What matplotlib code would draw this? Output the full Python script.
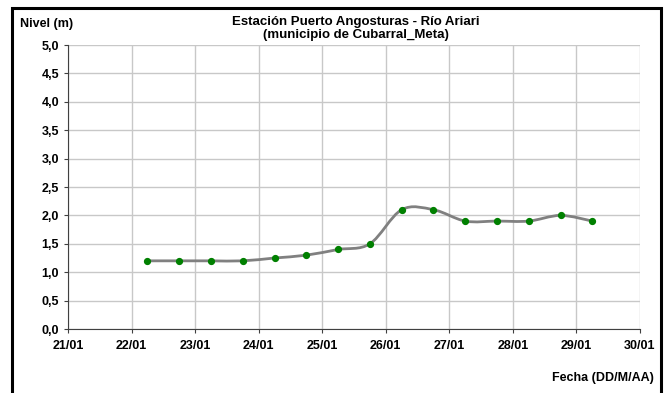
import numpy as np
import pandas as pd
import matplotlib
matplotlib.use("Agg")
import matplotlib.pyplot as plt
import matplotlib.dates as mdates
from matplotlib.path import Path
from matplotlib.patches import PathPatch, Rectangle

# Datos (lecturas cada 12 horas)
fechas = pd.date_range("2000-01-22 06:00", periods=15, freq="12h")
nivel = [1.2, 1.2, 1.2, 1.2, 1.25, 1.3, 1.4, 1.5, 2.1, 2.1, 1.9, 1.9, 1.9, 2.0, 1.9]
ticks_x = pd.date_range("2000-01-21", "2000-01-30", freq="D")
ticks_y = np.arange(0, 5.01, 0.5)

plt.rcParams["font.family"] = ["Liberation Sans", "DejaVu Sans"]
plt.rcParams["font.weight"] = "bold"

fig = plt.figure(figsize=(6.67, 3.93), dpi=100)
ax = fig.add_axes([68 / 667, 1 - 329 / 393, (640 - 68) / 667, (329 - 45) / 393])

x = mdates.date2num(fechas)
y = np.array(nivel)

# linea suavizada tipo Excel (bezier)
pts = np.column_stack([x, y])
verts = [pts[0]]
codes = [Path.MOVETO]
n = len(pts)
for i in range(n - 1):
    p0 = pts[max(i - 1, 0)]
    p1 = pts[i]
    p2 = pts[i + 1]
    p3 = pts[min(i + 2, n - 1)]
    c1 = p1 + (p2 - p0) / 6
    c2 = p2 - (p3 - p1) / 6
    verts += [c1, c2, p2]
    codes += [Path.CURVE4] * 3
ax.add_patch(PathPatch(Path(verts, codes), facecolor="none", edgecolor="#808080", lw=2.0, zorder=3))
ax.plot(x, y, ls="none", marker="o", ms=4.2, color="#008000", zorder=4)

ax.set_xlim(mdates.date2num(ticks_x[0]), mdates.date2num(ticks_x[-1]))
ax.set_ylim(0, 5)
ax.set_xticks(mdates.date2num(ticks_x))
ax.set_xticklabels([d.strftime("%d/%m") for d in ticks_x])
ax.set_yticks(ticks_y)
ax.set_yticklabels([f"{v:.1f}".replace(".", ",") for v in ticks_y])
ax.tick_params(labelsize=9, length=3, color="#404040")
ax.tick_params(axis="x", pad=5)
ax.grid(True, color="#c8c8c8", lw=1)
ax.set_axisbelow(True)
for s in ["top", "right"]:
    ax.spines[s].set_visible(False)
ax.spines["left"].set_color("#404040")
ax.spines["bottom"].set_color("#404040")

fig.text(356 / 667, 1 - 22 / 393, "Estación Puerto Angosturas - Río Ariari", ha="center", va="center", fontsize=9.5, weight="bold")
fig.text(356 / 667, 1 - 35 / 393, "(municipio de Cubarral_Meta)", ha="center", va="center", fontsize=9.5, weight="bold")
fig.text(20 / 667, 1 - 24 / 393, "Nivel (m)", ha="left", va="center", fontsize=9, weight="bold")
fig.text(654 / 667, 1 - 378 / 393, "Fecha (DD/M/AA)", ha="right", va="center", fontsize=9, weight="bold")

# marco exterior
fig.patches.append(Rectangle((12 / 667, -0.05), (661 - 12) / 667, 1.05 - 8 / 393,
                             transform=fig.transFigure, fill=False, edgecolor="black", lw=2.2))

fig.savefig("out.png", dpi=100)
